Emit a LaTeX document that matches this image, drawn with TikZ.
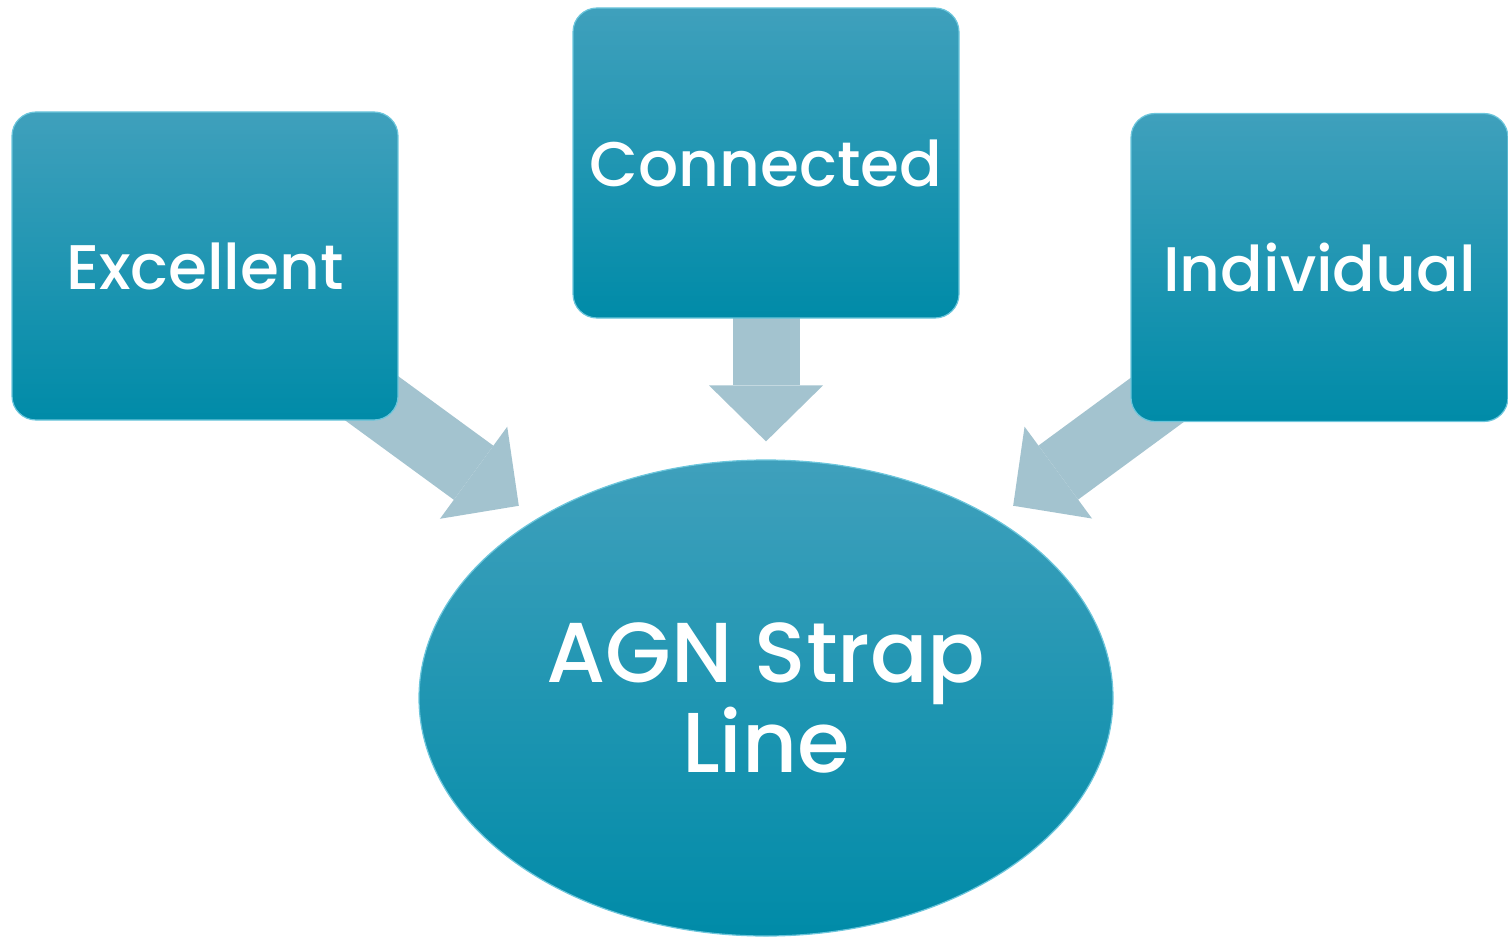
\documentclass[tikz,border=0pt]{standalone}
\usepackage{fontspec}
\setmainfont{Poppins Medium}
\usetikzlibrary{shapes.geometric,positioning,arrows.meta,backgrounds}

\definecolor{boxtop}{HTML}{3FA0BC}
\definecolor{boxbot}{HTML}{008BA8}
\definecolor{boxrim}{HTML}{6CC6DC}
\definecolor{arrowfill}{HTML}{A3C3CF}

\begin{document}
\begin{tikzpicture}[x=0.5pt,y=-0.5pt,on grid,
  box/.style={rectangle,rounded corners=12pt,minimum width=193pt,minimum height=154pt,
    top color=boxtop,bottom color=boxbot,draw=boxrim,line width=0.6pt,
    text=white,font=\fontsize{31.5}{38}\selectfont},
  hub/.style={ellipse,minimum width=347pt,minimum height=238pt,inner sep=0pt,
    top color=boxtop,bottom color=boxbot,draw=boxrim,line width=0.6pt,
    text=white,align=center,font=\fontsize{42.5}{45}\selectfont},
  blockarrow/.style={color=arrowfill,line width=33.5pt,
    -{Triangle[length=28pt,width=57pt,line width=0pt,fill=arrowfill]}}]
 \useasboundingbox (0,0) rectangle (1508,936);
 \node[box,minimum height=155pt] (con) at (766,163) {Connected};
 \node[box] (exc) [below left=51.5pt and 280.5pt of con] {Excellent};
 \node[box,minimum width=188.5pt] (ind) [below right=52.25pt and 276.75pt of con] {Individual};
 \node[hub] (agn) [below=267.5pt of con] {AGN Strap\\Line};
 % arrows sit behind the boxes
 \begin{scope}[on background layer]
 \path[blockarrow,shorten >=11pt]
 ([shift={(-47,-37)}]exc.south east) edge (agn.142)
 ([shift={(47,-37)}]ind.south west) edge (agn.38)
 ([yshift=14pt]con.south) edge[shorten >=9pt] (agn.north);
 \end{scope}
\end{tikzpicture}
\end{document}
